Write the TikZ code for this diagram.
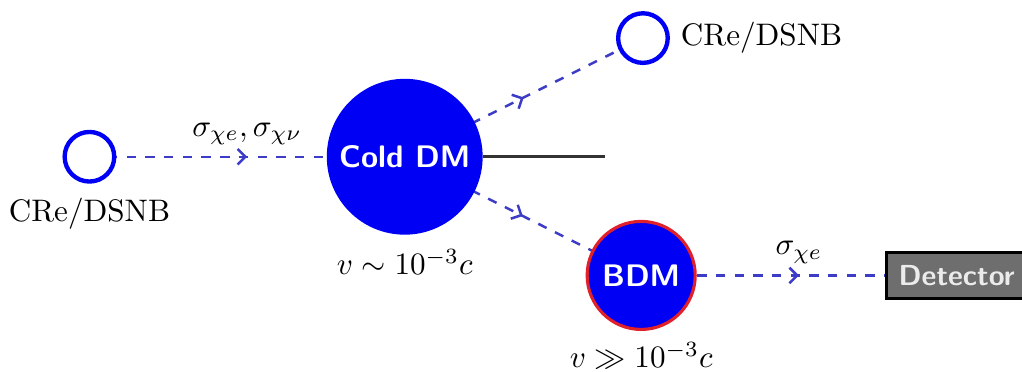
\documentclass[tikz,border=0pt]{standalone}
\usepackage{amsmath, amssymb}
\usepackage{tikz}
\definecolor{DMblue}{HTML}{0000F5}
\definecolor{DMflow}{HTML}{3C3CC8}
\definecolor{DMred}{HTML}{E0202A}
\definecolor{DMgray}{HTML}{6E6E6E}
\usetikzlibrary{
  arrows.meta, decorations.markings, backgrounds, positioning
}

\begin{document}
\begin{tikzpicture}
    % boosted dark matter -- production and detection chain
\tikzset{
  source/.style={circle, draw=DMblue, line width=1.4pt, fill=white,
    minimum size=0.56cm, inner sep=0pt},
  dmblob/.style={circle, fill=DMblue, text=white,
    font=\bfseries\sffamily, inner sep=0pt},
  detector/.style={rectangle, fill=DMgray, draw=black, line width=1pt,
    text=white!92!black, font=\fontsize{9.3}{11}\bfseries\sffamily,
    minimum height=0.52cm, inner xsep=4pt},
  flow/.style={DMflow, dashed, line width=0.8pt, postaction={decorate},
    decoration={markings, mark=at position 0.5 with
      {\arrow[solid]{Straight Barb[length=2.5pt, width=5pt]}}}},
}
  \useasboundingbox (-4.57,-2.42) rectangle (6.97,1.77);

  % Cold DM at rest
  \node[dmblob, minimum size=1.76cm] (cold) at (0,0) {Cold DM};
  \node[below=1pt of cold] (coldv) {$v \sim 10^{-3}c$};

  % Incoming and outgoing CRe/DSNB
  \node[source] (src) at (-3.56,0) {};
  \node[below=1pt of src] (srclab) {CRe/DSNB};
  \node[source] (upper) at (2.69,1.34) {};
  \node[right=0pt of upper] (upperlab) {CRe/DSNB};

  % Boosted DM
  \node[dmblob, draw=DMred, line width=1pt, minimum size=1.22cm]
    (bdm) at (2.67,-1.34) {BDM};
  \node[below=0pt of bdm] (bdmv) {$v \gg 10^{-3}c$};

  % Detector (runs off the right edge)
  \node[detector, anchor=west] (det) at (5.42,-1.34) {Detector};

  % Recoil line
  \coordinate (tail) at (2.26,0);
  \draw[black!80, line width=0.9pt] (cold) -- (tail);

  % Dashed flows, centre to centre behind the blobs
  \begin{scope}[on background layer]
    \draw[flow] (src.center) -- (cold.center)
      node[midway, above, black] (sigin) {$\sigma_{\chi e}, \sigma_{\chi\nu}$};
    \draw[flow] (cold.center) -- (upper.center);
    \draw[flow] (cold.center) -- (bdm.center);
    \draw[flow] (bdm.center) -- (det.center)
      node[midway, above, black] (sigout) {$\sigma_{\chi e}$};
  \end{scope}

  \end{tikzpicture}
\end{document}
